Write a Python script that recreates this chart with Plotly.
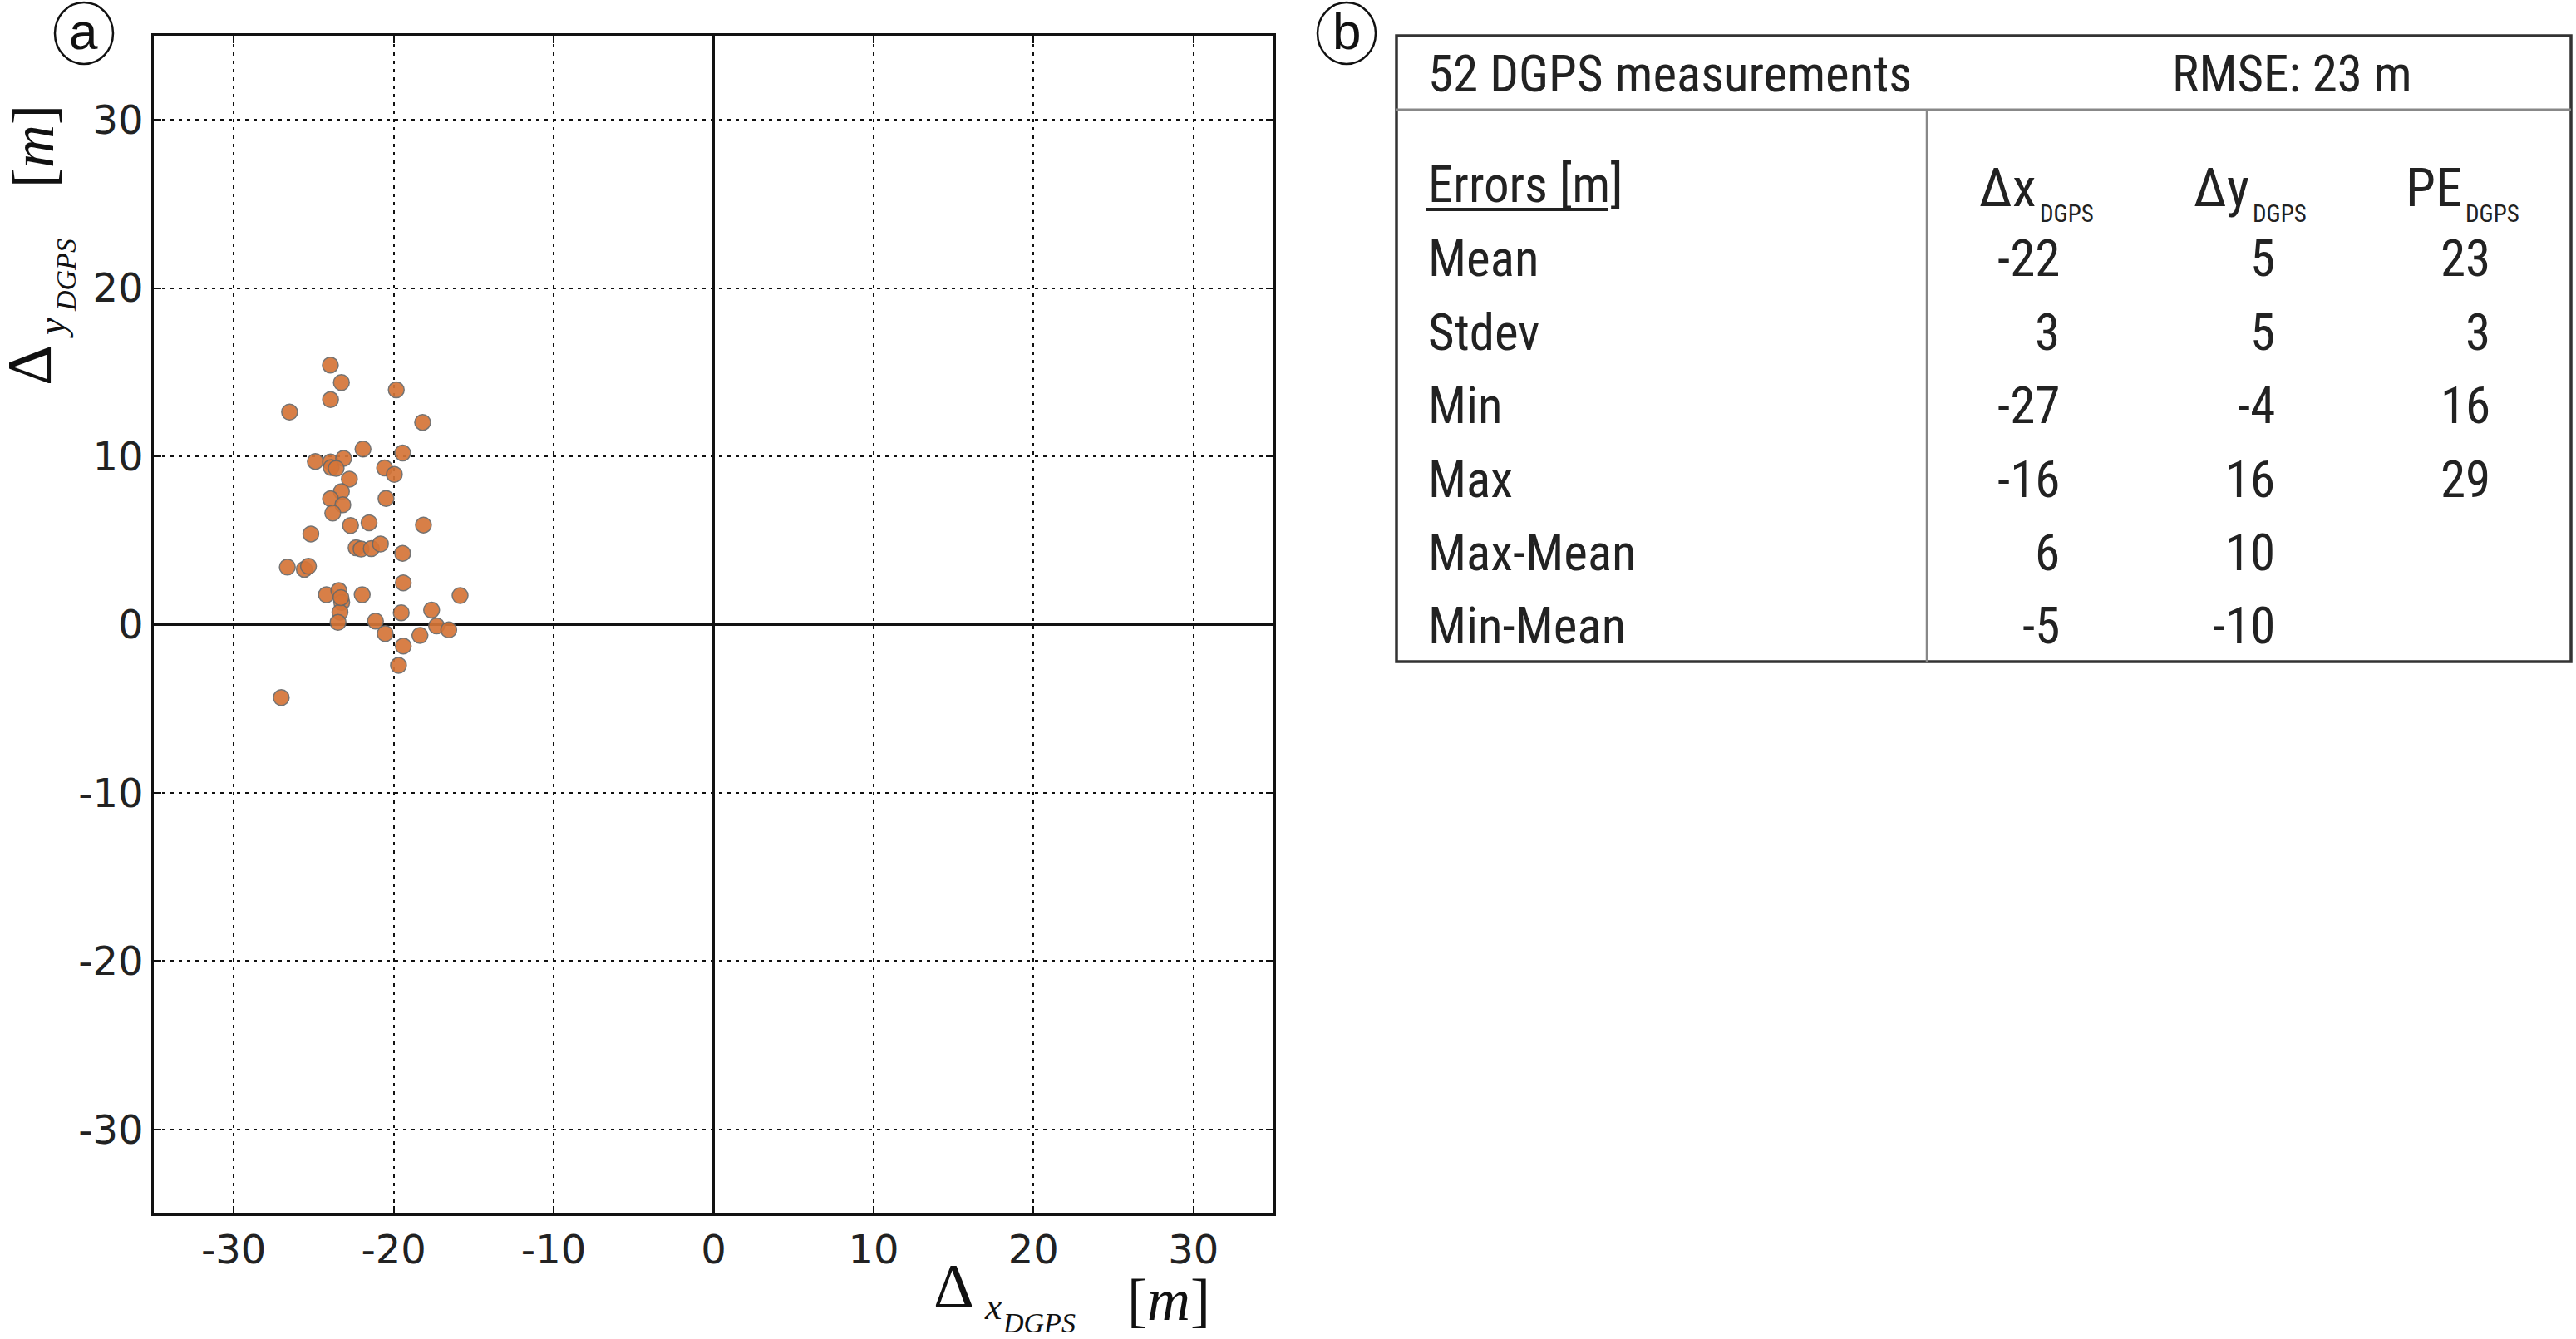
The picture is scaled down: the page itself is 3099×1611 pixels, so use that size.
import plotly.graph_objects as go

W, H = 3099, 1611

# ---- data: DGPS error points ----
dx = [-23.96, -23.27, -23.95, -26.51, -19.84, -18.19, -21.92, -19.44, -24.90, -23.95,
      -23.13, -23.91, -23.60, -20.57, -19.96, -22.77, -23.27, -23.95, -20.48, -23.18,
      -23.81, -22.70, -21.54, -18.14, -25.18, -22.35, -22.04, -21.40, -20.83, -19.44,
      -26.65, -25.59, -25.33, -19.40, -24.21, -23.43, -23.25, -21.97, -15.85, -23.36,
      -19.53, -17.63, -23.48, -21.14, -17.32, -16.56, -20.53, -18.36, -19.40, -19.70,
      -27.03, -23.30]
dy = [15.43, 14.39, 13.37, 12.63, 13.95, 12.02, 10.44, 10.20, 9.70, 9.67,
      9.88, 9.34, 9.29, 9.31, 8.93, 8.65, 7.91, 7.48, 7.50, 7.12,
      6.63, 5.89, 6.05, 5.92, 5.39, 4.57, 4.49, 4.52, 4.79, 4.24,
      3.42, 3.29, 3.47, 2.48, 1.78, 2.02, 1.32, 1.78, 1.73, 0.74,
      0.71, 0.87, 0.13, 0.21, -0.08, -0.31, -0.53, -0.64, -1.27, -2.42,
      -4.34, 1.61]

tick_vals = [-30, -20, -10, 0, 10, 20, 30]
tick_text = ["-30", "-20", "-10", "0", "10", "20", "30"]

# ---- table content ----
header_left = "52 DGPS measurements"
header_right = "RMSE: 23 m"
errors_label = "Errors [m]"
col_main = ["Δx", "Δy", "PE"]
col_sub = ["DGPS", "DGPS", "DGPS"]
row_labels = ["Mean", "Stdev", "Min", "Max", "Max-Mean", "Min-Mean"]
col_dx = ["-22", "3", "-27", "-16", "6", "-5"]
col_dy = ["5", "5", "-4", "16", "10", "-10"]
col_pe = ["23", "3", "16", "29", "", ""]


def X(px):
    return px / W


def Y(py):
    return 1 - py / H


fig = go.Figure()
fig.add_trace(go.Scatter(
    x=dx, y=dy, mode="markers",
    marker=dict(size=19, color="rgb(213,117,56)", opacity=0.92,
                line=dict(color="rgb(105,105,105)", width=1.5)),
    showlegend=False, hoverinfo="skip"))

axis_common = dict(
    range=[-35, 35], tickvals=tick_vals, ticktext=tick_text,
    showline=True, linecolor="#111", linewidth=2.5, mirror="ticks",
    ticks="inside", ticklen=9, tickwidth=2, tickcolor="#111",
    showgrid=True, gridcolor="#111", gridwidth=2, griddash="4px,6px",
    zeroline=True, zerolinecolor="#111", zerolinewidth=2.5,
    tickfont=dict(family="DejaVu Sans", size=48, color="#222"),
    fixedrange=True,
)
fig.update_xaxes(domain=[X(185), X(1532)], **axis_common)
fig.update_yaxes(domain=[Y(1460), Y(43)], **axis_common)

ann = []
shapes = []

serif = "Liberation Serif"
# x axis title pieces
ann += [
    dict(x=X(1147), y=Y(1547), text="Δ", font=dict(family=serif, size=76, color="#111")),
    dict(x=X(1195), y=Y(1571), text="<i>x</i>", font=dict(family=serif, size=46, color="#111")),
    dict(x=X(1250), y=Y(1591), text="<i>DGPS</i>", font=dict(family=serif, size=34, color="#111")),
    dict(x=X(1406), y=Y(1564), text="[<i>m</i>]", font=dict(family=serif, size=72, color="#111")),
]
# y axis title pieces (rotated)
ann += [
    dict(x=X(35), y=Y(440), text="Δ", textangle=-90, font=dict(family=serif, size=76, color="#111")),
    dict(x=X(62), y=Y(395), text="<i>y</i>", textangle=-90, font=dict(family=serif, size=46, color="#111")),
    dict(x=X(80), y=Y(331), text="<i>DGPS</i>", textangle=-90, font=dict(family=serif, size=34, color="#111")),
    dict(x=X(40), y=Y(176), text="[<i>m</i>]", textangle=-90, font=dict(family=serif, size=72, color="#111")),
]

# circled panel labels
for cx, lab in [(101, "a"), (1620, "b")]:
    shapes.append(dict(type="circle", xref="paper", yref="paper",
                       x0=X(cx - 35), x1=X(cx + 35), y0=Y(77), y1=Y(3),
                       line=dict(color="#111", width=2.5)))
    ann.append(dict(x=X(cx), y=Y(38), text=lab,
                    font=dict(family="Liberation Sans", size=62, color="#111")))

# table frame
shapes += [
    dict(type="rect", xref="paper", yref="paper", x0=X(1680), x1=X(3093), y0=Y(796), y1=Y(43),
         line=dict(color="#333", width=3.5)),
    dict(type="line", xref="paper", yref="paper", x0=X(1680), x1=X(3093), y0=Y(132), y1=Y(132),
         line=dict(color="#888", width=3)),
    dict(type="line", xref="paper", yref="paper", x0=X(2318), x1=X(2318), y0=Y(132), y1=Y(796),
         line=dict(color="#888", width=2.5)),
    dict(type="line", xref="paper", yref="paper", x0=X(1716), x1=X(1934), y0=Y(252), y1=Y(252),
         line=dict(color="#222", width=4)),
]

tf = "Liberation Sans Narrow, Arial Narrow, Roboto Condensed, Liberation Sans"
fs = 61
ann += [
    dict(x=X(1716), y=Y(89), text=header_left, xanchor="left",
         font=dict(family=tf, size=fs, color="#222")),
    dict(x=X(2757), y=Y(89), text=header_right, xanchor="center",
         font=dict(family=tf, size=fs, color="#222")),
    dict(x=X(1716), y=Y(222), text=errors_label, xanchor="left",
         font=dict(family=tf, size=fs, color="#222")),
]
col_sub_left = [2452, 2708, 2964]
for m, s, xl in zip(col_main, col_sub, col_sub_left):
    ann.append(dict(x=X(xl), y=Y(226), text=m, xanchor="right",
                    font=dict(family=tf, size=fs + 4, color="#222")))
    ann.append(dict(x=X(xl), y=Y(257), text=s, xanchor="left",
                    font=dict(family=tf, size=29, color="#222")))

row_y = [311, 400, 488, 577, 665, 753]
col_right = [2480, 2739, 2998]
for i, ry in enumerate(row_y):
    ann.append(dict(x=X(1716), y=Y(ry), text=row_labels[i], xanchor="left",
                    font=dict(family=tf, size=fs, color="#222")))
    for cr, col in zip(col_right, [col_dx, col_dy, col_pe]):
        if col[i]:
            ann.append(dict(x=X(cr), y=Y(ry), text=col[i], xanchor="right",
                            font=dict(family=tf, size=fs, color="#222")))

for a in ann:
    a.setdefault("xref", "paper")
    a.setdefault("yref", "paper")
    a.setdefault("showarrow", False)
    a.setdefault("xanchor", "center")
    a.setdefault("yanchor", "middle")

fig.update_layout(
    width=W, height=H,
    margin=dict(l=0, r=0, t=0, b=0),
    paper_bgcolor="white", plot_bgcolor="white",
    annotations=ann, shapes=shapes,
    showlegend=False,
)

fig.write_html("out.html", config={"displayModeBar": False},
               post_script="document.body.style.margin='0px';document.body.style.overflow='hidden';")
